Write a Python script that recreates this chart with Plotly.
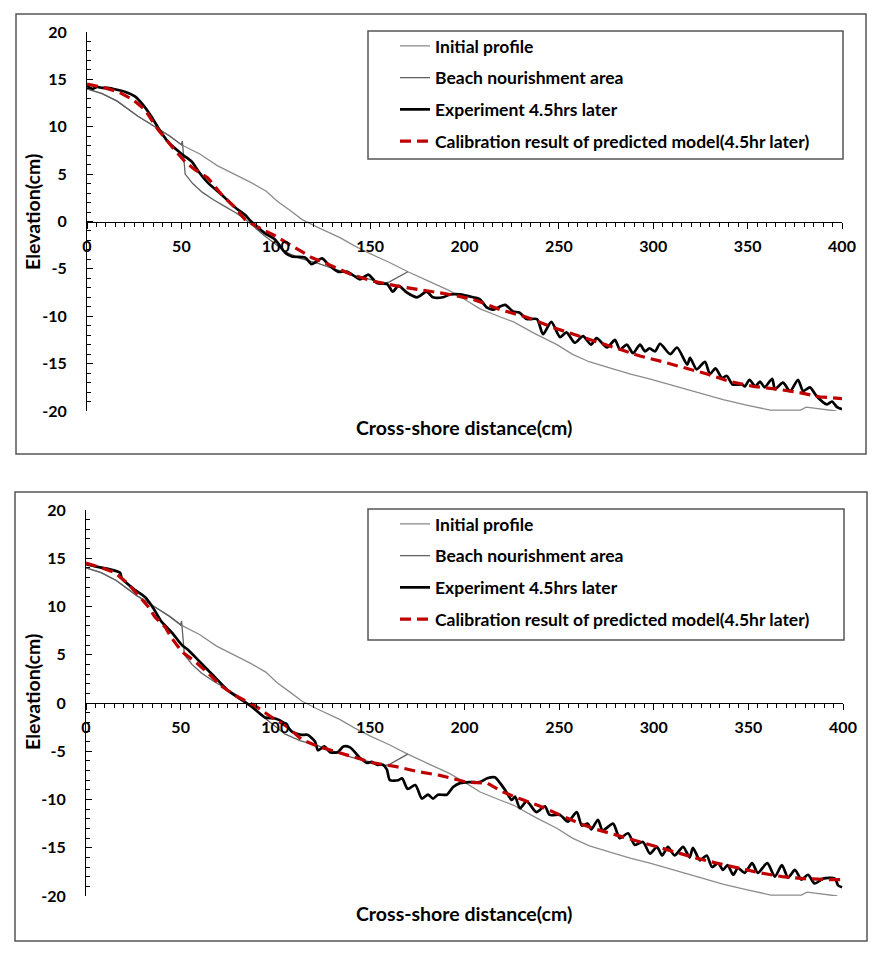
import plotly.graph_objects as go

REF_W, REF_H = 887, 956
OFF = 8                      # browser body margin
W, H = REF_W - OFF, REF_H - OFF

# ---------------- data ----------------
init_x = [0, 8, 16, 27, 36, 44, 50, 60, 69, 78, 87, 95, 101, 108, 114, 122, 134, 142, 150, 160,
          170, 181, 192, 200, 208, 218, 226, 237, 249, 257, 266, 276, 288, 298, 309, 323, 337, 350,
          362, 370, 378, 381, 390, 397]
init_y = [14.0, 13.5, 12.7, 11.1, 10.0, 9.0, 8.1, 7.1, 5.9, 5.0, 4.1, 3.2, 2.1, 1.1, 0.2, -0.6, -1.7,
          -2.6, -3.4, -4.3, -5.3, -6.3, -7.3, -8.2, -9.2, -10.0, -10.6, -11.8, -13.0, -14.0, -14.8,
          -15.4, -16.1, -16.6, -17.2, -18.0, -18.8, -19.4, -19.9, -19.9, -19.9, -19.6, -19.8, -20.0]

nour_x = [0, 8, 16, 27, 36, 44, 50, 50.5, 52, 56, 61, 67, 73, 79, 84, 89, 94, 100, 105, 113, 122,
          131, 140, 148, 157, 160, 170]
nour_y = [14.0, 13.5, 12.7, 11.1, 10.0, 9.0, 8.1, 8.5, 5.0, 4.0, 3.1, 2.3, 1.6, 0.9, 0.2, -0.7, -1.5,
          -2.4, -3.2, -3.9, -4.4, -5.0, -5.6, -6.0, -6.5, -6.4, -5.3]

exp1_x = [0, 3, 5.3, 8, 11, 16, 20, 25.4, 29.7, 34, 37.7, 43, 50.3, 55.6, 59, 64, 71.5, 78.4, 83.7, 87,
          94, 99.6, 105, 108.6, 115.5, 119, 121, 124.5, 127.7, 133, 138, 144.6, 149, 153.6, 159, 162,
          165, 169.5, 174.8, 180, 183.3, 188.6, 192.3, 197.6, 204.5, 208, 212, 215, 221.5, 225.7, 229,
          233, 238.4, 241.6, 246, 250.6, 254, 258.5, 262.8, 267, 270, 275.5, 279.7, 282.4, 286, 289.3,
          293, 295.6, 298, 301, 303.6, 309, 312.6, 318, 319.5, 323, 327.4, 330, 333, 336.4, 339, 342,
          347, 348.6, 351, 354, 356.6, 359, 363, 364.5, 368.7, 372.5, 376.7, 379.4, 383, 386.8, 392,
          394.7, 397.4, 400]
exp1_y = [14.3, 14.0, 14.2, 14.1, 14.1, 13.9, 13.7, 13.2, 12.3, 11.1, 9.9, 8.4, 7.1, 6.3, 5.3, 4.1, 2.8,
          1.5, 0.7, 0.0, -1.2, -1.9, -3.3, -3.7, -3.8, -4.5, -4.3, -3.9, -4.5, -5.3, -5.3, -6.1, -5.6,
          -6.5, -6.6, -7.4, -6.8, -7.5, -8.0, -7.4, -8.0, -8.0, -7.7, -7.7, -8.0, -8.2, -9.1, -9.3, -8.8,
          -9.5, -9.6, -10.3, -10.3, -11.9, -10.6, -12.2, -11.7, -12.8, -12.1, -13.0, -12.3, -13.3, -12.5,
          -13.5, -13.0, -13.9, -13.0, -13.7, -13.4, -13.7, -12.9, -14.0, -13.3, -15.1, -14.4, -15.6,
          -14.8, -16.1, -15.5, -16.5, -16.3, -17.2, -17.2, -17.4, -16.7, -17.4, -16.9, -17.5, -16.6,
          -17.7, -17.0, -17.9, -16.7, -17.9, -17.5, -18.5, -19.3, -19.0, -19.6, -19.8]

cal1_x = [0, 9.5, 16.4, 24, 30.7, 37.6, 45, 52, 57, 64, 71.5, 78.4, 83.7, 90.6, 99.6, 108.6, 119,
          129.8, 140, 151.5, 164, 176.4, 192.3, 204.5, 218.8, 233, 247, 261, 272, 282.4, 293, 305,
          315.8, 328.5, 340.7, 353, 365.6, 376, 388, 400]
cal1_y = [14.5, 14.1, 13.7, 12.9, 11.8, 9.7, 7.9, 6.3, 5.5, 4.6, 2.8, 1.5, 0.2, -0.6, -1.5, -2.6, -3.8,
          -4.7, -5.6, -6.3, -6.8, -7.2, -7.7, -8.2, -9.3, -10.1, -11.2, -12.1, -12.8, -13.5, -14.2,
          -14.8, -15.4, -16.1, -16.9, -17.4, -17.7, -18.0, -18.5, -18.7]

exp2_x = [0, 6.3, 13.7, 17, 18, 19, 26, 31, 35, 40, 45.4, 50.7, 54, 61, 68, 75, 82.4, 87.7, 94.6, 100,
          105, 109, 114, 117, 121, 122.6, 126, 129, 133, 136, 139.5, 144.8, 148.5, 151, 153.8, 157, 159,
          160.6, 165, 167, 170, 174, 177.5, 180.7, 183.4, 186, 190.7, 194, 197.6, 203, 208, 212, 216,
          218.8, 221.4, 225, 226.7, 229.3, 232.9, 238, 242.5, 245, 250.5, 254.7, 259.3, 262, 265, 267,
          270.5, 273, 278.5, 282, 286.4, 290, 294.3, 298, 301.7, 304.4, 307.5, 311, 315.5, 319, 320.7,
          324.4, 328, 330.8, 334, 336.6, 339, 342, 344.5, 348, 352, 355, 360, 364, 367.7, 371, 374.6,
          378, 381.5, 385, 389.5, 395.8, 397.4, 399.5]
exp2_y = [14.4, 14.1, 13.8, 13.6, 13.5, 12.9, 11.7, 11.0, 10.0, 8.4, 7.3, 6.0, 5.5, 4.1, 2.7, 1.3, 0.3,
          -0.4, -1.5, -1.6, -2.1, -3.0, -3.3, -3.3, -4.0, -4.9, -4.5, -5.1, -5.1, -4.5, -4.6, -5.7,
          -6.2, -6.1, -6.4, -6.4, -6.9, -8.0, -8.0, -7.8, -8.9, -8.5, -9.9, -9.5, -9.9, -9.5, -9.5,
          -8.7, -8.3, -8.2, -8.2, -7.8, -7.7, -8.3, -9.0, -10.05, -9.7, -10.9, -10.2, -11.3, -10.7,
          -11.6, -11.6, -12.3, -11.3, -12.7, -12.5, -13.1, -12.1, -13.2, -12.5, -14.0, -13.5, -14.7,
          -14.4, -15.6, -14.9, -15.8, -14.9, -15.8, -14.9, -16.0, -15.0, -16.3, -15.8, -17.0, -16.6,
          -17.3, -16.8, -17.8, -17.1, -17.6, -16.6, -17.6, -16.6, -18.0, -16.8, -18.1, -17.3, -18.3,
          -17.8, -18.7, -18.2, -18.2, -18.9, -19.1]

cal2_x = [0, 8.5, 15.3, 22, 27.5, 32.8, 36.5, 41.7, 45.4, 50.7, 57.6, 64.5, 71.9, 78.7, 85.6, 91, 98.3,
          106.7, 114, 122.6, 133, 142, 151.7, 164, 175, 187, 201, 212, 220, 229, 240, 250.5, 261, 268,
          275, 286.4, 299, 310, 323, 333.4, 344, 356, 368, 379, 393, 400]
cal2_y = [14.5, 14.0, 13.5, 12.4, 11.2, 10.0, 8.9, 7.9, 6.7, 5.3, 4.3, 3.1, 1.7, 0.8, 0.1, -0.5, -1.5,
          -2.5, -3.8, -4.5, -5.1, -5.6, -6.2, -6.6, -7.1, -7.5, -8.2, -8.3, -9.2, -9.9, -10.7, -11.6,
          -12.5, -13.0, -13.4, -14.0, -14.7, -15.4, -16.1, -16.6, -17.1, -17.6, -18.0, -18.2, -18.3,
          -18.3]

names = ["Initial profile", "Beach nourishment area", "Experiment 4.5hrs later",
         "Calibration result of predicted model(4.5hr later)"]
x_ticks = [0, 50, 100, 150, 200, 250, 300, 350, 400]
y_ticks = [20, 15, 10, 5, 0, -5, -10, -15, -20]

# ---------------- styling ----------------
FONT = "Lato"
TICKFONT = dict(family=FONT, size=16, color="black", weight="bold")
TITLEFONT = dict(family=FONT, size=19.5, color="black", weight="bold")
LEGFONT = dict(family=FONT, size=17.5, color="black", weight="bold")
C_INIT = "#8c8c8c"
C_NOUR = "#606060"
C_EXP = "black"
C_CAL = "#c00000"


def px_x(p):
    return (p - OFF) / W


def px_y(p):
    return 1 - (p - OFF) / H


fig = go.Figure()

panels = [
    dict(xa="x", ya="y", leg="legend", exp=(exp1_x, exp1_y), cal=(cal1_x, cal1_y)),
    dict(xa="x2", ya="y2", leg="legend2", exp=(exp2_x, exp2_y), cal=(cal2_x, cal2_y)),
]

for i, p in enumerate(panels):
    series = [
        (init_x, init_y, dict(color=C_INIT, width=1.3)),
        (nour_x, nour_y, dict(color=C_NOUR, width=1.3)),
        (p["exp"][0], p["exp"][1], dict(color=C_EXP, width=2.7, shape="spline", smoothing=0.7)),
        (p["cal"][0], p["cal"][1], dict(color=C_CAL, width=3.2, dash="11px,6px")),
    ]
    for k, (xs, ys, ln) in enumerate(series):
        fig.add_trace(go.Scatter(x=xs, y=ys, mode="lines", line=ln, name=names[k],
                                 xaxis=p["xa"], yaxis=p["ya"], legend=p["leg"],
                                 legendgroup=f"g{i}{k}"))

# pixel geometry of the two panels (reference picture pixels)
geo = [
    dict(xl=87, xr=842, yt=32, yb=411, box=(16, 14, 866, 454), leg=(368, 31, 843, 159),
         xt=427, yt_c=212, leg_top=28),
    dict(xl=86, xr=843, yt=510, yb=896, box=(15, 492, 867, 941), leg=(368, 509, 844, 640),
         xt=913, yt_c=692, leg_top=506),
]

shapes = []
annotations = []
for i, g in enumerate(geo):
    suf = "" if i == 0 else "2"
    ov = "3" if i == 0 else "4"
    xdom = [px_x(g["xl"]), px_x(g["xr"])]
    ydom = [px_y(g["yb"]), px_y(g["yt"])]
    zero_pos = (ydom[0] + ydom[1]) / 2
    fig.update_layout(**{f"xaxis{suf}": dict(
        domain=xdom, range=[0, 400], anchor="free", position=zero_pos, automargin=False,
        tickmode="array", tickvals=x_ticks, ticktext=[str(v) for v in x_ticks],
        ticks="outside", ticklen=6, tickwidth=1, tickcolor="black",
        showline=True, linecolor="black", linewidth=1, showgrid=False, zeroline=False,
        tickfont=TICKFONT, ticklabelstandoff=4,
        minor=dict(dtick=5, ticks="outside", ticklen=4, tickcolor="black", tickwidth=1,
                   showgrid=False))})
    fig.update_layout(**{f"xaxis{ov}": dict(
        domain=xdom, range=[0, 400], anchor="free", position=zero_pos, automargin=False,
        overlaying="x" + suf, tickmode="array", tickvals=x_ticks,
        ticks="inside", ticklen=6, tickwidth=1, tickcolor="black", showticklabels=False,
        showline=False, showgrid=False, zeroline=False,
        minor=dict(dtick=5, ticks="inside", ticklen=4, tickcolor="black", tickwidth=1,
                   showgrid=False))})
    fig.update_layout(**{f"yaxis{suf}": dict(
        domain=ydom, range=[-20, 20], anchor="x" + suf, automargin=False,
        tickmode="array", tickvals=y_ticks, ticktext=[str(v) for v in y_ticks],
        ticks="inside", ticklen=6, tickwidth=1, tickcolor="black",
        showline=True, linecolor="black", linewidth=1, showgrid=False, zeroline=False,
        tickfont=TICKFONT, ticklabelstandoff=16,
        minor=dict(dtick=1, ticks="inside", ticklen=4, tickcolor="black", tickwidth=1,
                   showgrid=False))})

    bx = g["box"]
    shapes.append(dict(type="rect", xref="paper", yref="paper",
                       x0=px_x(bx[0]), x1=px_x(bx[2]), y0=px_y(bx[3]), y1=px_y(bx[1]),
                       line=dict(color="#555555", width=1.5), layer="below"))
    lb = g["leg"]
    shapes.append(dict(type="rect", xref="paper", yref="paper",
                       x0=px_x(lb[0]), x1=px_x(lb[2]), y0=px_y(lb[3]), y1=px_y(lb[1]),
                       line=dict(color="#555555", width=1.5), layer="below"))
    annotations.append(dict(text="Cross-shore distance(cm)", xref="paper", yref="paper",
                            x=px_x(464), y=px_y(g["xt"]), xanchor="center", yanchor="middle",
                            showarrow=False, font=TITLEFONT))
    annotations.append(dict(text="Elevation(cm)", xref="paper", yref="paper",
                            x=px_x(32), y=px_y(g["yt_c"]), xanchor="center", yanchor="middle",
                            textangle=-90, showarrow=False, font=TITLEFONT))
    fig.update_layout(**{("legend" if i == 0 else "legend2"): dict(
        x=px_x(395), y=px_y(g["leg_top"]), xanchor="left", yanchor="top",
        bgcolor="rgba(0,0,0,0)", borderwidth=0, tracegroupgap=6,
        font=LEGFONT, itemwidth=30)})

fig.update_layout(width=W, height=H,
                  margin=dict(l=0, r=0, t=0, b=0, pad=0, autoexpand=False),
                  paper_bgcolor="white", plot_bgcolor="white",
                  shapes=shapes, annotations=annotations, showlegend=True)

fig.write_html("out.html")
